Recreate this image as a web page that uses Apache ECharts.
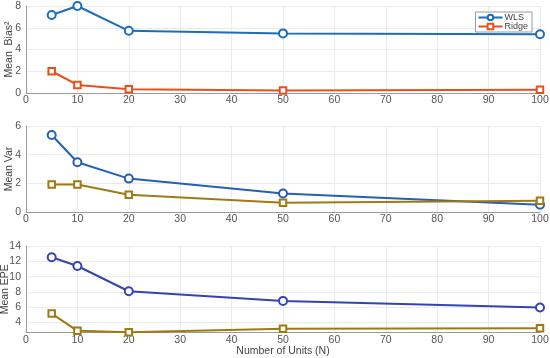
<!DOCTYPE html>
<html><head><meta charset="utf-8">
<script src="https://cdn.jsdelivr.net/npm/echarts@6/dist/echarts.min.js"></script>
<style>html,body{margin:0;padding:0;background:#fff}#c{width:550px;height:358px}</style>
</head><body><div id="c"></div>
<script>
const units = [5, 10, 20, 50, 100];
const xTicks = [0,10,20,30,40,50,60,70,80,90,100];
const biasWLS = [7.17, 8.0, 5.72, 5.48, 5.41];
const biasRidge = [2.0, 0.74, 0.34, 0.22, 0.31];
const varWLS = [5.37, 3.47, 2.33, 1.29, 0.51];
const varRidge = [1.92, 1.92, 1.2, 0.65, 0.78];
const epeWLS = [12.53, 11.39, 8.09, 6.83, 5.96];
const epeRidge = [5.17, 2.92, 2.72, 3.18, 3.26];
const biasTicks = [0,2,4,6,8];
const varTicks = [0,2,4,6];
const epeTicks = [4,6,8,10,12,14];
const yNames = ['Mean  Bias\u00B2', 'Mean Var', 'Mean EPE'];

const chart = echarts.init(document.getElementById('c'), null, {renderer:'canvas'});
const font = 'Liberation Sans, Arial, sans-serif';
const grids = [
  {left:26, right:10, top:6, height:87, containLabel:false, outerBoundsMode:'none'},
  {left:26, right:10, top:126, height:86, containLabel:false, outerBoundsMode:'none'},
  {left:26, right:10, top:246, height:86.5, containLabel:false, outerBoundsMode:'none'}
];
function xAxis(i){
  return {type:'value', gridIndex:i, min:0, max:100, interval:10,
    axisLine:{show:true, lineStyle:{color:'#9a9a9a', width:1}},
    axisTick:{show:false},
    axisLabel:{color:'#555', fontSize:10.5, fontFamily:font, margin:2},
    splitLine:{show:true, lineStyle:{color:'#ebebeb', width:1}},
    name: i===2 ? 'Number of Units (N)' : '', nameLocation:'middle', nameGap:13, nameMoveOverlap:false,
    nameTextStyle:{color:'#444', fontSize:10.5, fontFamily:font}
  };
}
function yAxis(i, min, max, ticks){
  return {type:'value', gridIndex:i, min:min, max:max,
    axisLine:{show:true, lineStyle:{color:'#9a9a9a', width:1}},
    axisTick:{show:false, customValues:ticks},
    axisLabel:{color:'#555', fontSize:10.5, fontFamily:font, margin:5, customValues:ticks},
    splitLine:{show:true, lineStyle:{color:'#ebebeb', width:1}},
    name: yNames[i], nameLocation:'middle', nameGap: i===2 ? 15 : 11, nameRotate:90, nameMoveOverlap:false,
    nameTextStyle:{color:'#444', fontSize:10.5, fontFamily:font}
  };
}
function pairs(ys){ return units.map((u,k)=>[u, ys[k]]); }
function line(name, i, data, color, symbol){
  return {name:name, type:'line', xAxisIndex:i, yAxisIndex:i, data:pairs(data),
    symbol: symbol, symbolSize: symbol==='circle' ? 8 : 6.5,
    lineStyle:{color:color, width:2}, itemStyle:{color:'#fff', borderColor:color, borderWidth:2},
    color: color, animation:false, z:3};
}
chart.setOption({
  animation:false,
  grid: grids,
  xAxis: [xAxis(0), xAxis(1), xAxis(2)],
  yAxis: [yAxis(0,0,8,biasTicks), yAxis(1,0,6,varTicks), yAxis(2,2.7,14,epeTicks)],
  legend:{data:['WLS','Ridge'], orient:'vertical', right:18, top:12, itemGap:0,
    itemWidth:24, itemHeight:7, padding:[1,4,1,2], borderColor:'#9a9a9a', borderWidth:1,
    backgroundColor:'#fff', textStyle:{fontSize:9, color:'#444', fontFamily:font, padding:[0,0,0,-3]}},
  series: [
    line('WLS', 0, biasWLS, '#1a6fb8', 'circle'),
    line('Ridge', 0, biasRidge, '#e8501a', 'rect'),
    line('WLS2', 1, varWLS, '#2460b4', 'circle'),
    line('Ridge2', 1, varRidge, '#a07a12', 'rect'),
    line('WLS3', 2, epeWLS, '#3444b6', 'circle'),
    line('Ridge3', 2, epeRidge, '#9e7a10', 'rect')
  ]
});
</script></body></html>
